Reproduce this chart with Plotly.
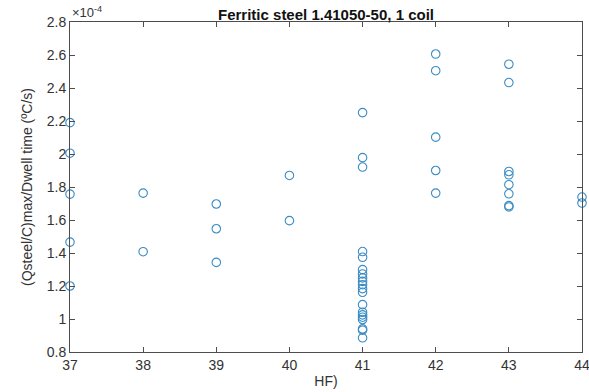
import plotly.graph_objects as go

# HF setting of each measurement
hf_37 = [37] * 5
hf_38 = [38] * 2
hf_39 = [39] * 3
hf_40 = [40] * 2
hf_41 = [41] * 20
hf_42 = [42] * 5
hf_43 = [43] * 8
hf_44 = [44] * 2

# (Qsteel/C)max / dwell time, in units of 1e-4 ºC/s
rate_37 = [2.19, 2.005, 1.757, 1.466, 1.200]
rate_38 = [1.763, 1.408]
rate_39 = [1.697, 1.547, 1.343]
rate_40 = [1.870, 1.596]
rate_41 = [2.251, 1.978, 1.921, 1.409, 1.374, 1.299, 1.273, 1.249, 1.228,
           1.208, 1.184, 1.162, 1.087, 1.041, 1.025, 1.011, 0.997, 0.940,
           0.932, 0.886]
rate_42 = [2.606, 2.505, 2.102, 1.900, 1.763]
rate_43 = [2.544, 2.433, 1.894, 1.874, 1.814, 1.759, 1.687, 1.679]
rate_44 = [1.739, 1.703]

x_vals = hf_37 + hf_38 + hf_39 + hf_40 + hf_41 + hf_42 + hf_43 + hf_44
y_vals = rate_37 + rate_38 + rate_39 + rate_40 + rate_41 + rate_42 + rate_43 + rate_44

y_ticks = [0.8, 1.0, 1.2, 1.4, 1.6, 1.8, 2.0, 2.2, 2.4, 2.6, 2.8]
y_tick_text = ["0.8", "1", "1.2", "1.4", "1.6", "1.8", "2", "2.2", "2.4", "2.6", "2.8"]
x_ticks = [37, 38, 39, 40, 41, 42, 43, 44]

FONT = "Liberation Sans, Arial, sans-serif"
AXIS_COLOR = "#4d4d4d"

fig = go.Figure()
fig.add_trace(go.Scatter(
    x=x_vals, y=y_vals, mode="markers", cliponaxis=False,
    marker=dict(symbol="circle-open", size=8.5, color="#3a8cc4",
                line=dict(width=1.1, color="#3a8cc4")),
    showlegend=False,
))

axis_common = dict(
    showline=True, linecolor=AXIS_COLOR, linewidth=1, mirror="ticks",
    ticks="inside", ticklen=5, tickcolor=AXIS_COLOR, showgrid=False,
    zeroline=False, ticklabeloverflow="allow", automargin=False,
    tickfont=dict(family=FONT, size=14, color="#333333"),
)

fig.update_xaxes(range=[37, 44], tickvals=x_ticks,
                 title=dict(text="HF)", font=dict(family=FONT, size=14, color="#333333"),
                            standoff=4),
                 **axis_common)
fig.update_yaxes(range=[0.8, 2.8], tickvals=y_ticks, ticktext=y_tick_text,
                 title=dict(text="(Qsteel/C)max/Dwell time (ºC/s)",
                            font=dict(family=FONT, size=14, color="#333333"), standoff=10),
                 **axis_common)

fig.add_annotation(text="×10<sup>-4</sup>", xref="paper", yref="paper", x=0, y=1,
                   xanchor="left", yanchor="bottom", showarrow=False, xshift=0, yshift=0,
                   font=dict(family=FONT, size=13, color="#333333"))

fig.update_layout(
    width=589, height=392,
    margin=dict(l=70, r=7, t=22, b=40),
    plot_bgcolor="white", paper_bgcolor="white",
    title=dict(text="<b>Ferritic steel 1.41050-50, 1 coil</b>", x=0.5, xref="paper",
               y=0.962, yref="container", yanchor="middle",
               font=dict(family=FONT, size=15, color="#111111")),
)

fig.write_html("out.html")
